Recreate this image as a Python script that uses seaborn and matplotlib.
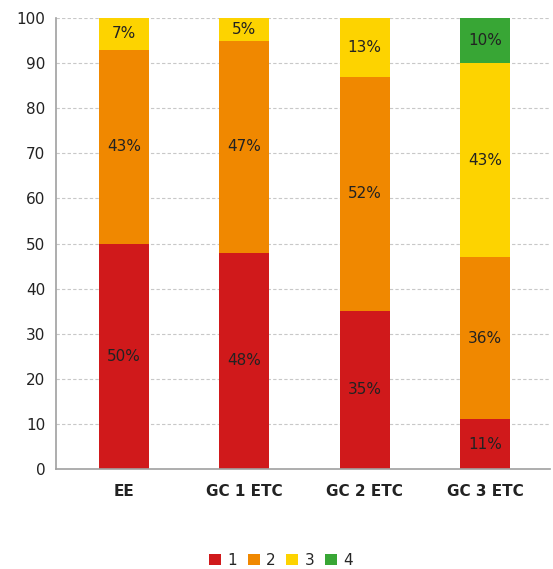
import numpy as np
import pandas as pd
import matplotlib
matplotlib.use("Agg")
import matplotlib.pyplot as plt
import seaborn as sns

categories = ["EE", "GC 1 ETC", "GC 2 ETC", "GC 3 ETC"]
levels = ["1", "2", "3", "4"]
v1 = [50, 48, 35, 11]
v2 = [43, 47, 52, 36]
v3 = [7, 5, 13, 43]
v4 = [0, 0, 0, 10]
colors = ["#d0191b", "#f08800", "#fdd300", "#38a635"]

sns.set_style("white")
plt.rcParams['font.family'] = ['DejaVu Sans']

series = [v1, v2, v3, v4]
cum = np.cumsum(np.array(series), axis=0)

fig = plt.figure(figsize=(5.53, 5.69), dpi=100)
ax = fig.add_axes([0.101, 0.176, 0.894, 0.792])

# draw cumulative bars from the top down so the lower ones overlap
for i in range(len(levels) - 1, -1, -1):
    df = pd.DataFrame({"cat": categories, "val": cum[i]})
    sns.barplot(data=df, x="cat", y="val", color=colors[i], width=0.415,
                saturation=1, ax=ax, edgecolor="none", label=levels[i])

for i in range(len(levels)):
    for j in range(len(categories)):
        v = series[i][j]
        if v == 0:
            continue
        ax.text(j, cum[i][j] - v / 2, f"{v}%", ha="center", va="center",
                fontsize=11, color="#222222")

ax.set_ylim(0, 100)
ax.set_xlim(-0.565, 3.54)
ax.set_yticks(range(0, 101, 10))
ax.yaxis.grid(True, linestyle=(0, (3, 2)), color="#c8c8c8", linewidth=0.8)
ax.set_axisbelow(True)
ax.set_xlabel("")
ax.set_ylabel("")
for s in ["top", "right"]:
    ax.spines[s].set_visible(False)
for s in ["left", "bottom"]:
    ax.spines[s].set_color("#a0a0a0")
    ax.spines[s].set_linewidth(1.2)
ax.tick_params(axis="y", labelsize=11, length=4, color="#a0a0a0", labelcolor="#222222")
ax.tick_params(axis="x", labelsize=11, length=4, color="#a0a0a0", pad=7)
for lbl in ax.get_xticklabels():
    lbl.set_fontweight("bold")
    lbl.set_color("#222222")

handles, labels = ax.get_legend_handles_labels()
if ax.get_legend() is not None:
    ax.get_legend().remove()
order = sorted(range(len(labels)), key=lambda k: labels[k])
fig.legend([handles[k] for k in order], [labels[k] for k in order],
           loc="center", bbox_to_anchor=(0.508, 0.015), ncol=4, frameon=False,
           fontsize=11, handlelength=0.8, handleheight=0.8, handletextpad=0.4,
           columnspacing=0.7, borderpad=0.1)

fig.savefig("out.png", dpi=100)
